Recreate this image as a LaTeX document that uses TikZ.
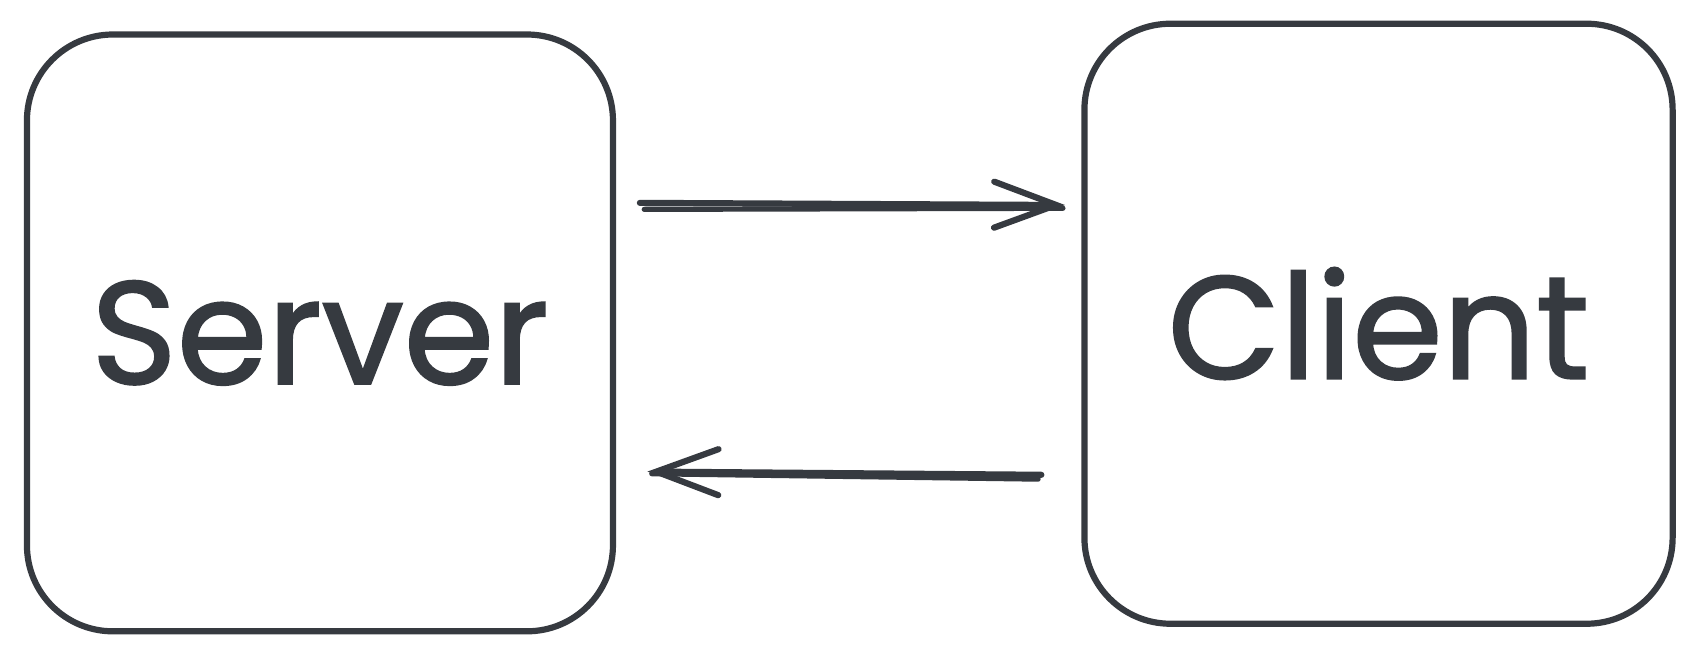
\documentclass[tikz,border=0pt]{standalone}
\usepackage{fontspec}
\setmainfont{Poppins}
\newfontfamily\labelfont{Poppins}[FakeBold=1.4]
\usetikzlibrary{arrows.meta}
\definecolor{ink}{HTML}{363A40}
\begin{document}
\begin{tikzpicture}[x=0.53954pt,y=-0.53954pt,
  box/.style={draw=ink, line width=3.1pt, rounded corners=43pt, inner sep=0pt,
    text=ink, font=\labelfont\fontsize{73}{78}\selectfont},
  conn/.style={draw=ink, line width=3.1pt, line cap=round,
    -{Straight Barb[length=31pt,width=23pt,line cap=round]}},
  shaft/.style={draw=ink, line width=2.6pt, line cap=round}]
\useasboundingbox (0,0) rectangle (1568,615.3);
\fill[white] (0,0) rectangle (1568,615.3);
\node[box, minimum width=293pt, minimum height=298.4pt] (server) at (296.5,308.5) {Server};
\node[box, minimum width=294.1pt, minimum height=300pt] (client) at (1277.5,300) {Client};
% connectors
\coordinate (t1) at (593,188);
\coordinate (t2) at (987,190);
\coordinate (t3) at (597,194);
\coordinate (t4) at (985,193);
\coordinate (b1) at (965,440);
\coordinate (b2) at (600,437);
\coordinate (b3) at (962,444);
\coordinate (b4) at (604,439);
\draw[conn] (t1) -- (t2);
\draw[shaft] (t3) -- (t4);
\draw[conn] (b1) -- (b2);
\draw[shaft] (b3) -- (b4);
\end{tikzpicture}
\end{document}
